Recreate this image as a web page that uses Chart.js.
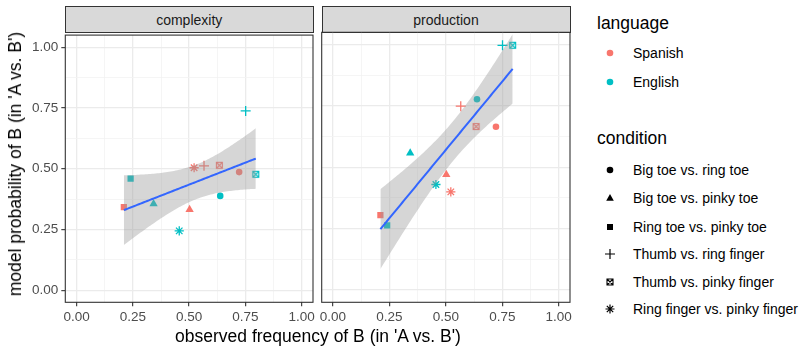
<!DOCTYPE html>
<html>
<head>
<meta charset="utf-8">
<script src="https://cdn.jsdelivr.net/npm/chart.js@4.4.1/dist/chart.umd.min.js"></script>
<style>
body{margin:0;background:#fff;font-family:'Liberation Sans',Arial,sans-serif;}
#wrap{position:relative;width:803px;height:346px;overflow:hidden;}
.pane{position:absolute;top:24px;}
.strip{position:absolute;top:5.5px;height:27px;line-height:26px;background:#D9D9D9;border:1px solid #333;box-sizing:border-box;text-align:center;font-size:14px;color:#1A1A1A;}
.title{position:absolute;font-size:17.5px;line-height:20px;color:#000;white-space:nowrap;}
.lg{position:absolute;font-size:14px;color:#000;white-space:nowrap;line-height:16px;}
.sym{position:absolute;}
</style>
</head>
<body>
<div id="wrap">
  <div class="strip" style="left:65px;width:248.5px;">complexity</div>
  <div class="strip" style="left:321.5px;width:249px;">production</div>
  <canvas class="pane" id="left" width="320" height="322" style="left:0px;"></canvas>
  <canvas class="pane" id="right" width="300" height="322" style="left:280px;"></canvas>
  <div class="title" style="left:15px;top:164px;transform:translate(-50%,-50%) rotate(-90deg);">model probability of B (in 'A vs. B')</div>
  <div class="title" style="left:318px;top:336px;transform:translate(-50%,-50%);">observed frequency of B (in 'A vs. B')</div>
  <div id="legend"></div>
</div>
<script>
// categories
const languages = ['Spanish', 'English'];
const conditions = ['Big toe vs. ring toe', 'Big toe vs. pinky toe', 'Ring toe vs. pinky toe',
  'Thumb vs. ring finger', 'Thumb vs. pinky finger', 'Ring finger vs. pinky finger'];

// observed frequency of B, per condition (same order as conditions)
const observedSpanish = [0.722, 0.502, 0.210, 0.566, 0.634, 0.522];
const observedEnglish = [0.638, 0.342, 0.240, 0.751, 0.796, 0.456];

// model probability of B
const complexitySpanish = [0.486, 0.332, 0.342, 0.512, 0.514, 0.504];
const complexityEnglish = [0.388, 0.355, 0.459, 0.738, 0.477, 0.244];
const productionSpanish = [0.665, 0.470, 0.305, 0.749, 0.666, 0.400];
const productionEnglish = [0.777, 0.558, 0.263, 0.997, 0.997, 0.430];

// axis ticks
const majorTicks = [0, 0.25, 0.5, 0.75, 1];
const tickLabels = ['0.00', '0.25', '0.50', '0.75', '1.00'];
const minorTicks = [0.125, 0.375, 0.625, 0.875];

const FONT = "'Liberation Sans', Arial, sans-serif";
const langColors = ['#F8766D', '#00BFC4'];
const shapes = ['circle', 'triangle', 'rect', 'cross', 'boxX', 'star'];
const shapeRadius = {circle: 3.3, triangle: 4.8, rect: 4.4, cross: 5, boxX: 4, star: 4.6};
const T975 = 2.2281; // qt(0.975, df = 10)

function makeBoxX(color) {
  const c = document.createElement('canvas');
  c.width = 9; c.height = 9;
  const g = c.getContext('2d');
  g.strokeStyle = color;
  g.lineWidth = 1.1;
  g.strokeRect(1.5, 1.5, 6, 6);
  g.beginPath();
  g.moveTo(1.5, 1.5); g.lineTo(7.5, 7.5);
  g.moveTo(7.5, 1.5); g.lineTo(1.5, 7.5);
  g.stroke();
  return c;
}

function pointDataset(label, xs, ys, color) {
  return {
    type: 'scatter',
    label: label,
    data: xs.map((x, i) => ({x: x, y: ys[i]})),
    pointStyle: shapes.map(s => s === 'boxX' ? makeBoxX(color) : s),
    pointRadius: shapes.map(s => shapeRadius[s]),
    backgroundColor: color,
    borderColor: color,
    borderWidth: shapes.map(s => (s === 'cross' || s === 'star') ? 1.3 : 0),
    order: 3
  };
}

// linear fit with 95% confidence band, like geom_smooth(method = 'lm')
function lmFit(xs, ys) {
  const n = xs.length;
  const mx = xs.reduce((a, b) => a + b, 0) / n;
  const my = ys.reduce((a, b) => a + b, 0) / n;
  let sxx = 0, sxy = 0;
  for (let i = 0; i < n; i++) {
    sxx += (xs[i] - mx) ** 2;
    sxy += (xs[i] - mx) * (ys[i] - my);
  }
  const b = sxy / sxx;
  const a = my - b * mx;
  let sse = 0;
  for (let i = 0; i < n; i++) sse += (ys[i] - a - b * xs[i]) ** 2;
  const s = Math.sqrt(sse / (n - 2));
  const lo = Math.min(...xs), hi = Math.max(...xs);
  const band = [];
  for (let k = 0; k < 80; k++) {
    const x = lo + (hi - lo) * k / 79;
    const f = a + b * x;
    const se = s * Math.sqrt(1 / n + (x - mx) ** 2 / sxx);
    band.push({x: x, fit: f, upper: f + T975 * se, lower: f - T975 * se});
  }
  return band;
}

const panelBorder = {
  id: 'panelBorder',
  afterDatasetsDraw(chart) {
    const ca = chart.chartArea, ctx = chart.ctx;
    ctx.save();
    ctx.strokeStyle = '#333333';
    ctx.lineWidth = 1.1;
    ctx.strokeRect(ca.left, ca.top, ca.right - ca.left, ca.bottom - ca.top);
    ctx.restore();
  }
};

function axisOpts(showLabels, fixedSize, isX) {
  const allTicks = majorTicks.concat(minorTicks).sort((a, b) => a - b);
  const isMajor = v => majorTicks.some(m => Math.abs(m - v) < 1e-9);
  return {
    type: 'linear',
    min: -0.05,
    max: 1.05,
    afterBuildTicks: scale => { scale.ticks = allTicks.map(v => ({value: v})); },
    afterFit: scale => { if (isX) scale.height = fixedSize; else scale.width = fixedSize; },
    ticks: {
      display: showLabels,
      autoSkip: false,
      maxRotation: 0,
      padding: 3,
      color: '#4D4D4D',
      font: {family: FONT, size: 13.5},
      callback: v => {
        const i = majorTicks.findIndex(m => Math.abs(m - v) < 1e-9);
        return i >= 0 ? tickLabels[i] : '';
      }
    },
    grid: {
      drawTicks: showLabels,
      tickLength: 4,
      color: ctx => isMajor(ctx.tick.value) ? '#EBEBEB' : '#F2F2F2',
      lineWidth: ctx => isMajor(ctx.tick.value) ? 1.3 : 0.8,
      tickColor: ctx => isMajor(ctx.tick.value) ? '#333333' : 'rgba(0,0,0,0)',
      tickWidth: 1.1
    },
    border: {display: false}
  };
}

function panelChart(id, spanishY, englishY, showY, yWidth, padRight) {
  const allX = observedSpanish.concat(observedEnglish);
  const allY = spanishY.concat(englishY);
  const band = lmFit(allX, allY);
  new Chart(document.getElementById(id), {
    type: 'scatter',
    data: {
      datasets: [
        pointDataset(languages[0], observedSpanish, spanishY, langColors[0]),
        pointDataset(languages[1], observedEnglish, englishY, langColors[1]),
        {type: 'line', data: band.map(p => ({x: p.x, y: p.upper})), borderWidth: 0,
          borderColor: 'rgba(0,0,0,0)', pointRadius: 0, fill: '+1',
          backgroundColor: 'rgba(153,153,153,0.4)', order: 2},
        {type: 'line', data: band.map(p => ({x: p.x, y: p.lower})), borderWidth: 0,
          borderColor: 'rgba(0,0,0,0)', pointRadius: 0, fill: false, order: 2},
        {type: 'line', data: band.map(p => ({x: p.x, y: p.fit})), borderColor: '#3366FF',
          borderWidth: 2, pointRadius: 0, fill: false, order: 1}
      ]
    },
    options: {
      responsive: false,
      animation: false,
      events: [],
      layout: {padding: {top: 8.3, right: padRight, left: 0, bottom: 0}},
      plugins: {legend: {display: false}, tooltip: {enabled: false}},
      scales: {
        x: axisOpts(true, 43.7, true),
        y: axisOpts(showY, yWidth, false)
      }
    },
    plugins: [panelBorder]
  });
}

panelChart('left', complexitySpanish, complexityEnglish, true, 65.3, 7);
panelChart('right', productionSpanish, productionEnglish, false, 41.7, 10);

// legend
const svgShape = {
  circle: c => `<circle cx="8" cy="8" r="3.3" fill="${c}"/>`,
  triangle: c => `<polygon points="8,4 11.8,10.8 4.2,10.8" fill="${c}"/>`,
  rect: c => `<rect x="5" y="5" width="6" height="6" fill="${c}"/>`,
  cross: c => `<path d="M3 8H13M8 3V13" stroke="${c}" stroke-width="1.2"/>`,
  boxX: c => `<path d="M5 5H11V11H5Z M5 5L11 11 M11 5L5 11" stroke="${c}" stroke-width="1.1" fill="none"/>`,
  star: c => `<path d="M3.5 8H12.5M8 3.5V12.5M4.8 4.8L11.2 11.2M11.2 4.8L4.8 11.2" stroke="${c}" stroke-width="1.2"/>`
};
let html = '';
html += `<div class="title" style="left:597px;top:13px;">language</div>`;
const langY = [53.3, 81.7];
languages.forEach((l, i) => {
  html += `<svg class="sym" style="left:602px;top:${langY[i] - 8}px" width="16" height="16">${svgShape.circle(langColors[i])}</svg>`;
  html += `<div class="lg" style="left:633px;top:${langY[i] - 8}px;">${l}</div>`;
});
html += `<div class="title" style="left:597px;top:128px;">condition</div>`;
const condY = [170, 198.3, 226.7, 254.3, 281.7, 309.3];
conditions.forEach((c, i) => {
  html += `<svg class="sym" style="left:602px;top:${condY[i] - 8}px" width="16" height="16">${svgShape[shapes[i]]('#000')}</svg>`;
  html += `<div class="lg" style="left:633px;top:${condY[i] - 8}px;">${c}</div>`;
});
document.getElementById('legend').innerHTML = html;
</script>
</body>
</html>
